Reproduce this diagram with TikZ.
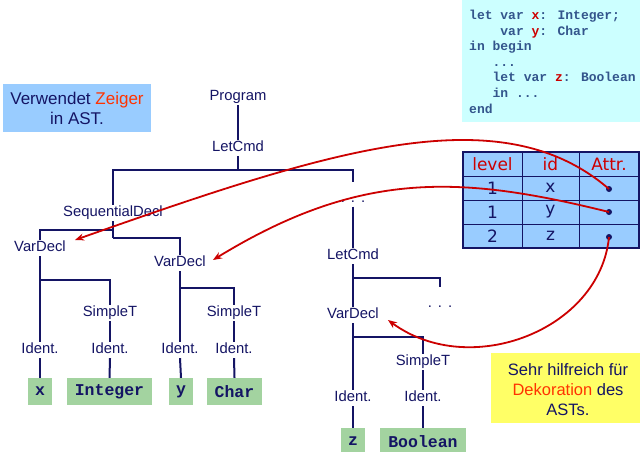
\documentclass[tikz,border=0pt]{standalone}
\usepackage{fontspec}
\setmainfont{Liberation Sans}
\newfontfamily\codefont{Liberation Mono}
\newfontfamily\tabfont{DejaVu Sans}
\usetikzlibrary{arrows.meta}
\definecolor{navy}{RGB}{20,20,100}
\definecolor{redarrow}{RGB}{204,0,0}
\definecolor{zred}{RGB}{255,51,0}
\definecolor{leafgreen}{RGB}{163,211,160}
\definecolor{lightblue}{RGB}{153,204,255}
\definecolor{codebg}{RGB}{204,255,255}
\definecolor{codetext}{RGB}{51,85,140}
\definecolor{notey}{RGB}{255,255,102}
\tikzset{
  tn/.style={font=\fontsize{14.8}{16}\selectfont, text=navy, text height=10pt, text depth=3pt, inner xsep=2pt, inner ysep=1.5pt},
  dotsn/.style={tn, anchor=base, text height=18.5pt},
  leaf/.style={fill=leafgreen, text=navy, font=\codefont\bfseries\fontsize{16.5}{18}\selectfont, minimum height=27pt, inner sep=0pt},
  edge/.style={draw=navy, line width=2pt},
  ptr/.style={draw=redarrow, line width=1.8pt, -{Stealth[length=9pt,width=7pt]}},
  codeline/.style={anchor=base west, inner sep=0pt, font=\codefont\bfseries\fontsize{13}{15.6}\selectfont, text=codetext},
  cell/.style={font=\tabfont\fontsize{17}{19}\selectfont, text=navy, inner sep=0pt},
  hcell/.style={cell, text=redarrow},
  dotn/.style={circle, fill=navy, inner sep=0pt, minimum size=6pt},
  note/.style={font=\fontsize{16.5}{20}\selectfont, text=navy, align=center, inner sep=0pt},
}
\newcommand{\spdots}{.\hspace{6pt}.\hspace{6pt}.}
\begin{document}
\begin{tikzpicture}[x=1pt,y=-1pt]
\useasboundingbox (0,0) rectangle (640,452);
\fill[white] (0,0) rectangle (640,452);

% code box
\fill[codebg] (462,0) rectangle (640,122);
\node[codeline] (c1) at (469,19.5) {let var \textcolor{redarrow}{x}: Integer;};
\node[codeline] (c2) at (469,35.1) {\hphantom{xxxx}var \textcolor{redarrow}{y}: Char};
\node[codeline] (c3) at (469,50.7) {in begin};
\node[codeline] (c4) at (469,66.3) {\hphantom{xxx}...};
\node[codeline] (c5) at (469,81.9) {\hphantom{xxx}let var \textcolor{redarrow}{z}: Boolean};
\node[codeline] (c6) at (469,97.5) {\hphantom{xxx}in ...};
\node[codeline] (c7) at (469,113.1) {end};

% note boxes
\fill[lightblue] (3,84) rectangle (151,132);
\node[note, font=\fontsize{17}{20}\selectfont] (n1) at (77,108) {Verwendet \textcolor{zred}{Zeiger}\\in AST.};
\fill[notey] (491,353) rectangle (640,423);
\node[note] (n2) at (568,390) {Sehr hilfreich für\\\textcolor{zred}{Dekoration} des\\ASTs.};

% table
\fill[lightblue] (463,152) rectangle (639,248);
\draw[navy, line width=1pt] (522,152) -- (522,248) (579,152) -- (579,248)
  (463,176) -- (639,176) (463,200) -- (639,200) (463,224) -- (639,224);
\draw[navy, line width=2.2pt] (463,152) rectangle (639,248);
\node[hcell] (h1) at (492.5,164) {level};
\node[hcell] (h2) at (550.5,164) {id};
\node[hcell] (h3) at (609,164) {Attr.};
\node[cell] (r11) at (492.5,188) {1};
\node[cell] (r12) at (550.5,188) {x};
\node[cell] (r21) at (492.5,212) {1};
\node[cell] (r22) at (550.5,212) {y};
\node[cell] (r31) at (492.5,236) {2};
\node[cell] (r32) at (550.5,236) {z};
\node[dotn] (d1) at (609,189) {};
\node[dotn] (d2) at (609,212) {};
\node[dotn] (d3) at (609,237) {};

% tree nodes
\node[tn] (prog) at (238,97) {Program};
\node[tn] (let1) at (238,148) {LetCmd};
\node[tn] (seq) at (113,213) {SequentialDecl};
\node[dotsn] (dots1) at (353,202) {\spdots};
\node[tn] (vd1) at (40,248) {VarDecl};
\node[tn] (vd2) at (180,263) {VarDecl};
\node[tn] (st1) at (110,313) {SimpleT};
\node[tn] (id1) at (40,350) {Ident.};
\node[tn] (id2) at (110,350) {Ident.};
\node[tn] (st2) at (234,313) {SimpleT};
\node[tn] (id3) at (180,350) {Ident.};
\node[tn] (id4) at (234,350) {Ident.};
\node[leaf, minimum width=24pt] (lx) at (40,391.5) {x};
\node[leaf, minimum width=85pt] (lint) at (109.5,391.5) {Integer};
\node[leaf, minimum width=24pt] (ly) at (181,391.5) {y};
\node[leaf, minimum width=55pt] (lchar) at (234.5,391.5) {Char};
\node[tn] (let2) at (353,256) {LetCmd};
\node[dotsn] (dots2) at (440,307) {\spdots};
\node[tn] (vd3) at (353,315) {VarDecl};
\node[tn] (st3) at (423,362) {SimpleT};
\node[tn] (id5) at (353,398) {Ident.};
\node[tn] (id6) at (423,398) {Ident.};
\node[leaf, minimum width=24pt] (lz) at (353,441.5) {z};
\node[leaf, minimum width=86pt] (lbool) at (423,441.5) {Boolean};

% tree edges
\coordinate (b1) at (238,170);
\coordinate (b2) at (113,230);
\coordinate (b2r) at (113,238);
\coordinate (b3) at (40,280);
\coordinate (b4) at (180,288);
\coordinate (b5) at (353,278);
\coordinate (b6) at (353,337);
\draw[edge] (prog.south) -- (let1.north);
\draw[edge] (let1.south) -- (b1);
\draw[edge] (seq.north) |- (b1) -| (dots1.north);
\draw[edge] (seq.south) -- (b2r);
\draw[edge] (vd1.north) |- (b2);
\draw[edge] (b2r) -| (vd2.north);
\draw[edge] (vd1.south) -- (id1.north);
\draw[edge] (b3) -| (st1.north);
\draw[edge] (st1.south) -- (id2.north);
\draw[edge] (vd2.south) -- (id3.north);
\draw[edge] (b4) -| (st2.north);
\draw[edge] (st2.south) -- (id4.north);
\draw[edge] (id1.south) -- (lx.north);
\draw[edge] (id2.south) -- (lint.north);
\draw[edge] (id3.south) -- (ly.north);
\draw[edge] (id4.south) -- (lchar.north);
\draw[edge] (dots1.south) -- (let2.north);
\draw[edge] (let2.south) -- (vd3.north);
\draw[edge] (b5) -| (dots2.north);
\draw[edge] (vd3.south) -- (id5.north);
\draw[edge] (b6) -| (st3.north);
\draw[edge] (st3.south) -- (id6.north);
\draw[edge] (id5.south) -- (lz.north);
\draw[edge] (id6.south) -- (lbool.north);

% pointers
\draw[ptr] (d1.center) .. controls (500,95) and (330,150) .. ([xshift=7pt,yshift=8pt]vd1.east);
\draw[ptr] (d2.center) .. controls (460,175) and (360,170) .. ([xshift=5pt,yshift=3pt]vd2.east);
\draw[ptr] (d3.center) .. controls (600,330) and (470,380) .. ([xshift=7pt,yshift=-5pt]vd3.east);
\end{tikzpicture}
\end{document}
